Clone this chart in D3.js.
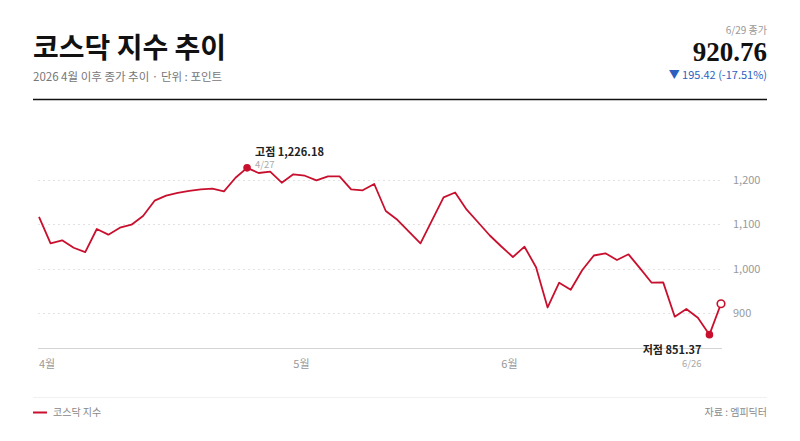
<!DOCTYPE html>
<html>
<head>
<meta charset="utf-8">
<script src="https://cdn.jsdelivr.net/npm/d3@7"></script>
<style>
  body { margin: 0; background: #fff; }
  svg { display: block; font-family: "Noto Sans CJK KR", "Noto Sans", sans-serif; }
</style>
</head>
<body>
<div id="chart"></div>
<script>
// trading days, 2026
var dates = [
	"4/1","4/2","4/3","4/6","4/7","4/8","4/9","4/10","4/13","4/14","4/15","4/16","4/17","4/20","4/21","4/22","4/23","4/24","4/27","4/28","4/29","4/30",
	"5/4","5/6","5/7","5/8","5/11","5/12","5/13","5/14","5/15","5/18","5/19","5/20","5/21","5/22","5/26","5/27","5/28","5/29",
	"6/1","6/2","6/4","6/5","6/8","6/9","6/10","6/11","6/12","6/15","6/16","6/17","6/18","6/19","6/22","6/23","6/24","6/25","6/26","6/29"
];

var closes = [
	1116.18, 1056.6, 1063.4, 1046.7, 1037.0, 1088.8, 1076.0, 1091.7, 1098.4, 1118.0, 1152.4, 1163.6, 1169.7, 1174.2, 1178.0, 1179.3, 1173.5, 1204.0, 1226.18, 1214.6, 1217.5, 1192.8,
	1211.7, 1208.5, 1198.2, 1207.2, 1207.0, 1178.0, 1175.7, 1189.9, 1129.2, 1109.4, 1083.0, 1056.6, 1108.0, 1160.0, 1170.8, 1132.1,
	1103.4, 1074.2, 1049.4, 1025.8, 1049.0, 1002.7, 912.4, 968.1, 952.4, 996.6, 1029.2, 1034.2, 1019.1, 1031.9, 1000.4, 968.1, 968.8, 891.7, 908.9, 889.2, 851.37, 920.76
];

var yTicks = [900, 1000, 1100, 1200];
var monthTicks = ["4/1", "5/4", "6/1"];
var monthLabels = ["4월", "5월", "6월"];

var highDate = "4/27", lowDate = "6/26", lastDate = "6/29";

var data = dates.map(function(d, i) { return { date: d, value: closes[i] }; });

var width = 800, height = 441;
var red = "#c8102e";

var svg = d3.select("#chart").append("svg")
	.attr("width", width)
	.attr("height", height);

// header
svg.append("text")
	.attr("x", 33).attr("y", 58)
	.attr("font-size", 28).attr("font-weight", 700).attr("fill", "#111")
	.text("코스닥 지수 추이");
svg.append("text")
	.attr("x", 33).attr("y", 81)
	.attr("font-size", 11.5).attr("fill", "#777")
	.text("2026 4월 이후 종가 추이 · 단위 : 포인트");

svg.append("text")
	.attr("x", 767).attr("y", 34).attr("text-anchor", "end")
	.attr("font-size", 10).attr("fill", "#999")
	.text("6/29 종가");
svg.append("text")
	.attr("x", 767).attr("y", 61).attr("text-anchor", "end")
	.attr("font-family", "'Liberation Serif', serif")
	.attr("font-size", 27).attr("font-weight", 700).attr("fill", "#111")
	.text("920.76");
svg.append("text")
	.attr("x", 767).attr("y", 79).attr("text-anchor", "end")
	.attr("font-size", 11).attr("fill", "#2d5fc0")
	.text("▼ 195.42 (-17.51%)");

svg.append("line")
	.attr("x1", 33).attr("x2", 767).attr("y1", 99.5).attr("y2", 99.5)
	.attr("stroke", "#111").attr("stroke-width", 1.5);

// scales
var x = d3.scalePoint()
	.domain(dates)
	.range([39, 721]);
var y = d3.scaleLinear()
	.domain([820, 1250])
	.range([348.6, 157.25]);

// gridlines
svg.selectAll(".grid")
	.data(yTicks)
	.enter().append("line")
	.attr("class", "grid")
	.attr("x1", 38).attr("x2", 722)
	.attr("y1", function(d) { return Math.round(y(d)) + 0.5; })
	.attr("y2", function(d) { return Math.round(y(d)) + 0.5; })
	.attr("stroke", "#e2e2e2")
	.attr("stroke-dasharray", "2,3");

var yAxis = svg.append("g")
	.attr("transform", "translate(729,0)")
	.call(d3.axisRight(y).tickValues(yTicks).tickSize(0).tickPadding(4).tickFormat(d3.format(",")));
yAxis.select(".domain").remove();
yAxis.selectAll("text")
	.attr("font-size", 11).attr("fill", "#999")
	.attr("font-family", "'Noto Sans CJK KR', sans-serif");

// baseline
svg.append("line")
	.attr("x1", 38).attr("x2", 722).attr("y1", 348.5).attr("y2", 348.5)
	.attr("stroke", "#d4d4d4");

svg.selectAll(".month")
	.data(monthTicks)
	.enter().append("text")
	.attr("class", "month")
	.attr("x", function(d) { return x(d); })
	.attr("y", 368)
	.attr("font-size", 11).attr("fill", "#999")
	.text(function(d, i) { return monthLabels[i]; });

// line
var line = d3.line()
	.x(function(d) { return x(d.date); })
	.y(function(d) { return y(d.value); });

svg.append("path")
	.datum(data)
	.attr("d", line)
	.attr("fill", "none")
	.attr("stroke", red)
	.attr("stroke-width", 1.8)
	.attr("stroke-linejoin", "round");

var high = data.find(function(d) { return d.date == highDate; });
var low = data.find(function(d) { return d.date == lowDate; });
var last = data.find(function(d) { return d.date == lastDate; });

svg.append("circle")
	.attr("cx", x(high.date)).attr("cy", y(high.value)).attr("r", 3.8)
	.attr("fill", red);
svg.append("circle")
	.attr("cx", x(low.date)).attr("cy", y(low.value)).attr("r", 3.8)
	.attr("fill", red);
svg.append("circle")
	.attr("cx", x(last.date)).attr("cy", y(last.value)).attr("r", 3.8)
	.attr("fill", "#fff").attr("stroke", red).attr("stroke-width", 1.6);

// annotations
svg.append("text")
	.attr("x", x(high.date) + 8).attr("y", y(high.value) - 12)
	.attr("font-size", 11).attr("font-weight", 700).attr("fill", "#222")
	.text("고점 " + d3.format(",.2f")(high.value));
svg.append("text")
	.attr("x", x(high.date) + 8).attr("y", y(high.value) + 0.5)
	.attr("font-size", 9.5).attr("fill", "#aaa")
	.text(high.date);

svg.append("text")
	.attr("x", x(low.date) - 8).attr("y", y(low.value) + 19)
	.attr("text-anchor", "end")
	.attr("font-size", 11).attr("font-weight", 700).attr("fill", "#222")
	.text("저점 " + d3.format(",.2f")(low.value));
svg.append("text")
	.attr("x", x(low.date) - 8).attr("y", y(low.value) + 32.5)
	.attr("text-anchor", "end")
	.attr("font-size", 9.5).attr("fill", "#aaa")
	.text(low.date);

// footer
svg.append("line")
	.attr("x1", 33).attr("x2", 767).attr("y1", 397.5).attr("y2", 397.5)
	.attr("stroke", "#f0f0f0");
svg.append("line")
	.attr("x1", 33).attr("x2", 47).attr("y1", 412.5).attr("y2", 412.5)
	.attr("stroke", red).attr("stroke-width", 2);
svg.append("text")
	.attr("x", 53).attr("y", 416)
	.attr("font-size", 10).attr("fill", "#888")
	.text("코스닥 지수");
svg.append("text")
	.attr("x", 767).attr("y", 416).attr("text-anchor", "end")
	.attr("font-size", 10).attr("fill", "#888")
	.text("자료 : 엠피딕터");
</script>
</body>
</html>
